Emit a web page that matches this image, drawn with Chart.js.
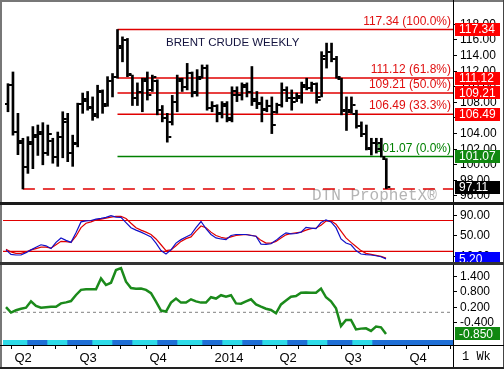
<!DOCTYPE html>
<html>
<head>
<meta charset="utf-8">
<title>Brent Crude Weekly</title>
<script src="https://cdn.jsdelivr.net/npm/chart.js@4.4.1/dist/chart.umd.min.js"></script>
<style>
  html, body { margin: 0; padding: 0; background: #fff; }
  #frame { position: relative; width: 504px; height: 369px; overflow: hidden; background: #fff; }
  .pane { position: absolute; left: 0; width: 504px; overflow: hidden; }
  .pane canvas { position: absolute; left: 0; }
  .rule { position: absolute; }
</style>
</head>
<body>
<div id="frame">
  <div class="pane" style="top:0; height:202px"><canvas id="price" width="504" height="226" style="top:-12px"></canvas></div>
  <div class="pane" style="top:205px; height:57px"><canvas id="stoch" width="504" height="81" style="top:-12px"></canvas></div>
  <div class="pane" style="top:265px; height:75px"><canvas id="mom" width="504" height="98" style="top:-12px"></canvas></div>
  <div class="pane" style="top:340px; height:29px"><canvas id="axis" width="504" height="29" style="top:0"></canvas></div>

  <div class="rule" style="left:0; top:0; width:504px; height:2px; background:#777"></div>
  <div class="rule" style="left:0; top:0; width:2px; height:369px; background:#777"></div>
  <div class="rule" style="left:503px; top:0; width:1px; height:369px; background:#444"></div>
  <div class="rule" style="left:453px; top:0; width:1px; height:369px; background:#000"></div>
  <div class="rule" style="left:0; top:202px; width:504px; height:3px; background:#1a1a1a"></div>
  <div class="rule" style="left:0; top:262px; width:504px; height:3px; background:#333"></div>
  <div class="rule" style="left:0; top:345px; width:504px; height:1px; background:#000"></div>
  <div class="rule" style="left:0; top:367px; width:504px; height:2px; background:#222"></div>
</div>

<script>
// weekly bars, one per week, index 0 = first bar on the chart
const opens = [
  107.8, 110.2, 104.2, 103.0, 99.7, 102.7, 103.5, 104.0, 101.5, 103.0,
  101.0, 103.5, 105.5, 101.5, 102.7, 107.8, 108.2, 107.3, 106.3, 109.3,
  107.8, 110.8, 111.3, 115.2, 116.0, 111.5, 108.5, 109.3, 110.8, 109.6,
  110.8, 107.0, 106.0, 105.5, 108.0, 110.7, 110.0, 111.8, 109.3, 111.3,
  112.4, 107.3, 107.5, 106.5, 107.6, 106.0, 109.0, 109.0, 110.0, 109.3,
  108.2, 107.8, 107.2, 107.5, 106.8, 107.7, 109.6, 108.6, 108.5, 108.5,
  110.2, 109.9, 110.3, 108.7, 113.5, 114.5, 113.5, 111.0, 107.0, 107.0,
  106.5, 105.0, 104.0, 102.1, 102.8, 102.8, 100.8,
]
const highs = [
  110.4, 111.9, 106.6, 103.4, 103.6, 104.9, 105.1, 105.4, 105.1, 103.4,
  104.2, 106.8, 106.6, 103.8, 107.9, 109.2, 109.4, 108.7, 110.2, 109.6,
  111.3, 111.7, 117.34, 116.4, 116.2, 111.5, 110.5, 111.1, 111.9, 111.5,
  110.9, 107.6, 106.6, 108.9, 111.5, 111.1, 113.0, 111.9, 112.2, 112.8,
  112.8, 108.1, 107.7, 108.1, 108.1, 110.0, 110.0, 110.5, 110.5, 112.6,
  109.4, 108.7, 108.3, 108.7, 107.9, 110.5, 110.0, 109.6, 109.2, 110.6,
  111.1, 110.6, 110.5, 114.5, 115.6, 115.6, 113.9, 111.1, 108.7, 108.7,
  107.0, 105.5, 105.1, 103.4, 103.4, 103.4, 100.8,
]
const lows = [
  106.8, 103.8, 101.3, 96.9, 98.9, 99.5, 101.2, 100.0, 101.2, 100.2,
  99.8, 100.9, 100.4, 99.8, 102.3, 106.6, 107.0, 105.7, 106.0, 106.6,
  107.5, 108.7, 111.1, 113.2, 111.3, 107.6, 107.6, 106.8, 108.3, 109.4,
  106.4, 105.5, 102.9, 105.1, 106.8, 109.4, 109.6, 108.7, 108.8, 111.1,
  107.0, 106.8, 105.5, 106.0, 105.5, 105.5, 108.1, 108.3, 108.7, 107.6,
  107.2, 105.5, 106.8, 104.0, 106.6, 107.4, 108.1, 107.0, 108.1, 107.9,
  109.6, 109.4, 107.9, 108.7, 112.4, 113.2, 111.1, 106.4, 104.4, 106.6,
  104.7, 103.6, 101.9, 101.25, 101.5, 101.0, 96.95,
]
const closes = [
  110.2, 104.2, 102.8, 99.7, 102.9, 103.8, 104.2, 101.5, 104.0, 101.0,
  103.5, 105.9, 101.5, 102.8, 107.8, 108.4, 107.4, 106.5, 109.5, 107.5,
  110.8, 111.2, 115.0, 116.0, 111.7, 108.5, 109.3, 111.0, 109.0, 111.2,
  107.0, 106.0, 103.5, 108.0, 111.0, 110.0, 111.8, 109.2, 111.0, 112.4,
  107.3, 107.5, 106.6, 107.8, 105.8, 109.5, 109.0, 110.2, 109.3, 108.4,
  107.9, 107.0, 107.6, 105.1, 107.7, 109.6, 108.6, 108.0, 108.8, 110.0,
  109.9, 110.3, 108.3, 114.0, 114.5, 113.5, 111.2, 106.9, 106.8, 107.7,
  105.0, 104.0, 102.0, 102.8, 102.0, 101.0, 97.11,
]

// stochastics (fast %K blue, slow %D red)
const stochK = [
  22.7, 14, 12.7, 12.7, 17.3, 22.7, 28, 32.7, 30.7, 25.3,
  37.3, 46, 41.3, 37.3, 56, 77.3, 79.3, 80, 82.7, 84,
  86, 89.3, 86.7, 86, 76, 66, 61.3, 57.3, 52.7, 48,
  36, 21.3, 14.7, 22.7, 36, 42.7, 48, 52.7, 66, 78,
  64, 52.7, 46, 44, 42.7, 50.7, 52.7, 52.7, 52.7, 50.7,
  49.3, 34, 33.3, 34.7, 41.3, 49.3, 56, 54, 54.7, 57.3,
  66.7, 65.3, 64, 76, 81.3, 77.3, 66, 44, 36, 32.7,
  21.3, 14.7, 13.3, 12.7, 11.3, 9.3, 5.2,
]
const stochD = [
  24, 18.7, 16, 16, 18.7, 22.7, 25.3, 28, 28, 26,
  32.7, 39.3, 38.7, 37.3, 49.3, 66, 74.7, 77.3, 81.3, 82.7,
  84.7, 86.7, 88, 88, 84, 74.7, 66, 61.3, 57.3, 52.7,
  44, 32.7, 21.3, 22.7, 30.7, 39.3, 44.7, 48, 59.3, 69.3,
  66, 57.3, 50.7, 47.3, 45.3, 48, 50.7, 52, 52.7, 51.3,
  49.3, 41.3, 36, 36, 39.3, 46, 52, 54.7, 56, 57.3,
  61.3, 64, 65.3, 70.7, 78.7, 79.3, 72.7, 59.3, 46, 37.3,
  29.3, 21.3, 16, 14, 12, 10, 6.7,
]
const stochBands = [80, 20]

// lower study (green line, zero line dashed)
const momentum = [
  0.2, -0.01, 0.08, 0.14, 0.18, 0.43, 0.25, 0.18, 0.2, 0.22,
  0.22, 0.35, 0.39, 0.44, 0.68, 0.88, 0.9, 0.9, 0.9, 1.33,
  1.07, 1.16, 1.66, 1.73, 1.2, 0.95, 0.92, 0.93, 0.88, 0.75,
  0.42, 0.07, 0.03, 0.38, 0.54, 0.38, 0.38, 0.51, 0.43, 0.38,
  0.38, 0.59, 0.54, 0.67, 0.61, 0.67, 0.35, 0.34, 0.43, 0.51,
  0.31, 0.22, 0.14, 0.09, -0.04, 0.31, 0.46, 0.61, 0.64, 0.77,
  0.78, 0.77, 0.77, 0.93, 0.59, 0.43, 0.16, -0.54, -0.3, -0.3,
  -0.67, -0.64, -0.63, -0.73, -0.56, -0.59, -0.85,
]

// retracement levels drawn from the high week onward
const fibStart = 22
const fibLevels = [117.34, 111.12, 109.21, 106.49, 101.07]
const fibPcts = ['100.0%', '61.8%', '50.0%', '33.3%', '0.0%']
const supportStart = 3
const supportLevel = 96.9

// axis ticks
const priceTicks = [96, 98, 100, 102, 104, 106, 108, 110, 112, 114, 116, 118]
const stochTicks = [10, 50, 90]
const momTicks = [-0.4, 0.2, 0.8, 1.4]
const quarterTicks = [1.1, 14.1, 28.1, 41.1, 54.1, 67.1, 80.1]
const quarterLabels = ['Q2', 'Q3', 'Q4', '2014', 'Q2', 'Q3', 'Q4']
const monthTicks = [5.4, 9.8, 18.4, 22.8, 32.4, 36.8, 45.4, 49.8, 58.4, 62.8, 71.4, 75.8, 84.4, 88.8]

// period strip under the lower study (week boundaries)
const stripEdges = [-0.6, 4.2, 8.2, 12.2, 17.2, 21.2, 25.2, 30.2, 34.2, 39.2, 43.2, 47.2, 51.2, 56.2, 60.2, 64.2, 69.2, 73.2, 89.4]

const X_MIN = -0.6
const X_MAX = 89.4
const RED = '#e00000'
const FONT = '"Liberation Sans", Arial, sans-serif'

Chart.defaults.font.family = FONT
Chart.defaults.font.size = 12
Chart.defaults.color = '#000'
Chart.defaults.animation = false
Chart.defaults.plugins.legend.display = false
Chart.defaults.plugins.tooltip.enabled = false

const xHidden = { type: 'linear', min: X_MIN, max: X_MAX, offset: false, display: false }

const rightAxis = (min, max, ticks, digits) => ({
  position: 'right',
  min,
  max,
  afterFit: (scale) => {
    scale.width = 51
  },
  afterBuildTicks: (scale) => {
    scale.ticks = ticks.map((value) => ({ value }))
  },
  grid: { drawOnChartArea: false, tickLength: 4, color: '#000' },
  border: { color: '#000' },
  ticks: { padding: 3, callback: (v) => Number(v).toFixed(digits) },
})

const hLine = (value, from, color, width, dash) => ({
  type: 'line',
  data: [
    { x: from, y: value },
    { x: X_MAX, y: value },
  ],
  borderColor: color,
  borderWidth: width,
  borderDash: dash || [],
  pointRadius: 0,
})

const series = (values) => values.map((y, x) => ({ x, y }))

function tickImage(side) {
  const c = document.createElement('canvas')
  c.width = 10
  c.height = 2
  const g = c.getContext('2d')
  g.fillStyle = '#000'
  g.fillRect(side === 'left' ? 1 : 6, 0, 3, 2)
  return c
}

function valueBox(chart, value, text, fill) {
  const { ctx, chartArea } = chart
  const y = chart.scales.y.getPixelForValue(value)
  ctx.save()
  ctx.fillStyle = fill
  ctx.fillRect(chartArea.right + 2, Math.round(y - 6.5), 45, 13)
  ctx.fillStyle = '#fff'
  ctx.font = '12px ' + FONT
  ctx.textBaseline = 'middle'
  ctx.fillText(text, chartArea.right + 6, y + 0.5)
  ctx.restore()
}

const priceDecor = {
  id: 'priceDecor',
  beforeDatasetsDraw(chart) {
    const { ctx, chartArea } = chart
    const y = chart.scales.y
    ctx.save()
    ctx.font = '16px "Liberation Mono", "Courier New", monospace'
    ctx.fillStyle = '#b4b4b4'
    ctx.textBaseline = 'alphabetic'
    ctx.fillText('DTN ProphetX\u00ae', chartArea.right - 141, chartArea.bottom - 2)

    ctx.font = '11.5px ' + FONT
    ctx.fillStyle = '#141440'
    ctx.textBaseline = 'middle'
    ctx.fillText('BRENT CRUDE WEEKLY', 166, chartArea.top + 40.5)

    ctx.font = '12px ' + FONT
    ctx.textAlign = 'right'
    ctx.textBaseline = 'bottom'
    fibLevels.forEach((level, k) => {
      ctx.fillStyle = k === fibLevels.length - 1 ? '#008000' : '#e01010'
      ctx.fillText(`${level.toFixed(2)} (${fibPcts[k]})`, chartArea.right - 2, y.getPixelForValue(level) - 2)
    })
    ctx.restore()
  },
  afterDraw(chart) {
    fibLevels.forEach((level, k) => {
      const last = k === fibLevels.length - 1
      valueBox(chart, level, level.toFixed(2), last ? '#118811' : '#ff0000')
    })
    const close = closes[closes.length - 1]
    valueBox(chart, close, close.toFixed(2), '#000')
  },
}

new Chart(document.getElementById('price'), {
  type: 'bar',
  data: {
    datasets: [
      {
        type: 'bar',
        data: highs.map((h, i) => ({ x: i, y: [lows[i], h] })),
        backgroundColor: '#000',
        barThickness: 2,
      },
      {
        type: 'scatter',
        data: series(opens),
        pointStyle: tickImage('left'),
        pointRadius: 3,
      },
      {
        type: 'scatter',
        data: series(closes),
        pointStyle: tickImage('right'),
        pointRadius: 3,
      },
      ...fibLevels.map((level, k) =>
        hLine(level, fibStart, k === fibLevels.length - 1 ? '#008000' : RED, 1.5)
      ),
      hLine(supportLevel, supportStart, RED, 1.5, [12, 8]),
    ],
  },
  options: {
    responsive: false,
    maintainAspectRatio: false,
    layout: { padding: { top: 14, bottom: 12, left: 3, right: 0 } },
    scales: {
      x: xHidden,
      y: rightAxis(95.23, 120.87, priceTicks, 2),
    },
  },
  plugins: [priceDecor],
})

new Chart(document.getElementById('stoch'), {
  type: 'line',
  data: {
    datasets: [
      { data: series(stochK), borderColor: '#1010c8', borderWidth: 1.2, pointRadius: 0 },
      { data: series(stochD), borderColor: RED, borderWidth: 1.2, pointRadius: 0 },
      ...stochBands.map((band) => hLine(band, X_MIN, RED, 1.2)),
    ],
  },
  options: {
    responsive: false,
    maintainAspectRatio: false,
    layout: { padding: { top: 12, bottom: 12, left: 3, right: 0 } },
    scales: {
      x: xHidden,
      y: rightAxis(-0.9, 110.2, stochTicks, 2),
    },
  },
  plugins: [
    {
      id: 'stochBoxes',
      afterDraw(chart) {
        const d = stochD[stochD.length - 1]
        const k = stochK[stochK.length - 1]
        valueBox(chart, d, d.toFixed(2), '#ff0000')
        valueBox(chart, k, k.toFixed(2), '#0000ff')
      },
    },
  ],
})

new Chart(document.getElementById('mom'), {
  type: 'line',
  data: {
    datasets: [
      { data: series(momentum), borderColor: '#1b8a1b', borderWidth: 2.5, pointRadius: 0 },
      hLine(0, X_MIN, '#808080', 1, [3, 3]),
    ],
  },
  options: {
    responsive: false,
    maintainAspectRatio: false,
    layout: { padding: { top: 12, bottom: 12, left: 3, right: 0 } },
    scales: {
      x: xHidden,
      y: rightAxis(-1.047, 1.855, momTicks, 3),
    },
  },
  plugins: [
    {
      id: 'momBox',
      afterDraw(chart) {
        const v = momentum[momentum.length - 1]
        valueBox(chart, v, v.toFixed(3), '#118811')
      },
    },
  ],
})

const axisTicks = [...quarterTicks, ...monthTicks].sort((a, b) => a - b)

new Chart(document.getElementById('axis'), {
  type: 'bar',
  data: {
    labels: [''],
    datasets: stripEdges.slice(1).map((end, k) => ({
      data: [[stripEdges[k], end]],
      backgroundColor: k % 2 === 0 ? '#2ddbe8' : '#1f6fd6',
      borderWidth: 0,
      barPercentage: 1,
      categoryPercentage: 1,
      grouped: false,
    })),
  },
  options: {
    indexAxis: 'y',
    responsive: false,
    maintainAspectRatio: false,
    layout: { padding: { top: 0, bottom: 2, left: 3, right: 0 } },
    scales: {
      x: {
        type: 'linear',
        position: 'bottom',
        min: X_MIN,
        max: X_MAX,
        afterFit: (scale) => {
          scale.height = 22
        },
        afterBuildTicks: (scale) => {
          scale.ticks = axisTicks.map((value) => ({ value }))
        },
        grid: { drawOnChartArea: false, tickLength: 4, color: '#000' },
        border: { color: '#000' },
        ticks: {
          autoSkip: false,
          maxRotation: 0,
          align: 'start',
          labelOffset: 3,
          padding: 2,
          font: { size: 13 },
          callback: (v) => {
            const k = quarterTicks.indexOf(v)
            return k < 0 ? '' : quarterLabels[k]
          },
        },
      },
      y: {
        type: 'category',
        position: 'right',
        afterFit: (scale) => {
          scale.width = 51
        },
        ticks: { display: false },
        grid: { display: false },
        border: { color: '#000' },
      },
    },
  },
  plugins: [
    {
      id: 'period',
      afterDraw(chart) {
        const { ctx, chartArea } = chart
        ctx.save()
        ctx.font = '12px "Liberation Mono", "Courier New", monospace'
        ctx.fillStyle = '#000'
        ctx.textBaseline = 'middle'
        ctx.fillText('1 Wk', chartArea.right + 9, chartArea.bottom + 12)
        ctx.restore()
      },
    },
  ],
})
</script>
</body>
</html>
